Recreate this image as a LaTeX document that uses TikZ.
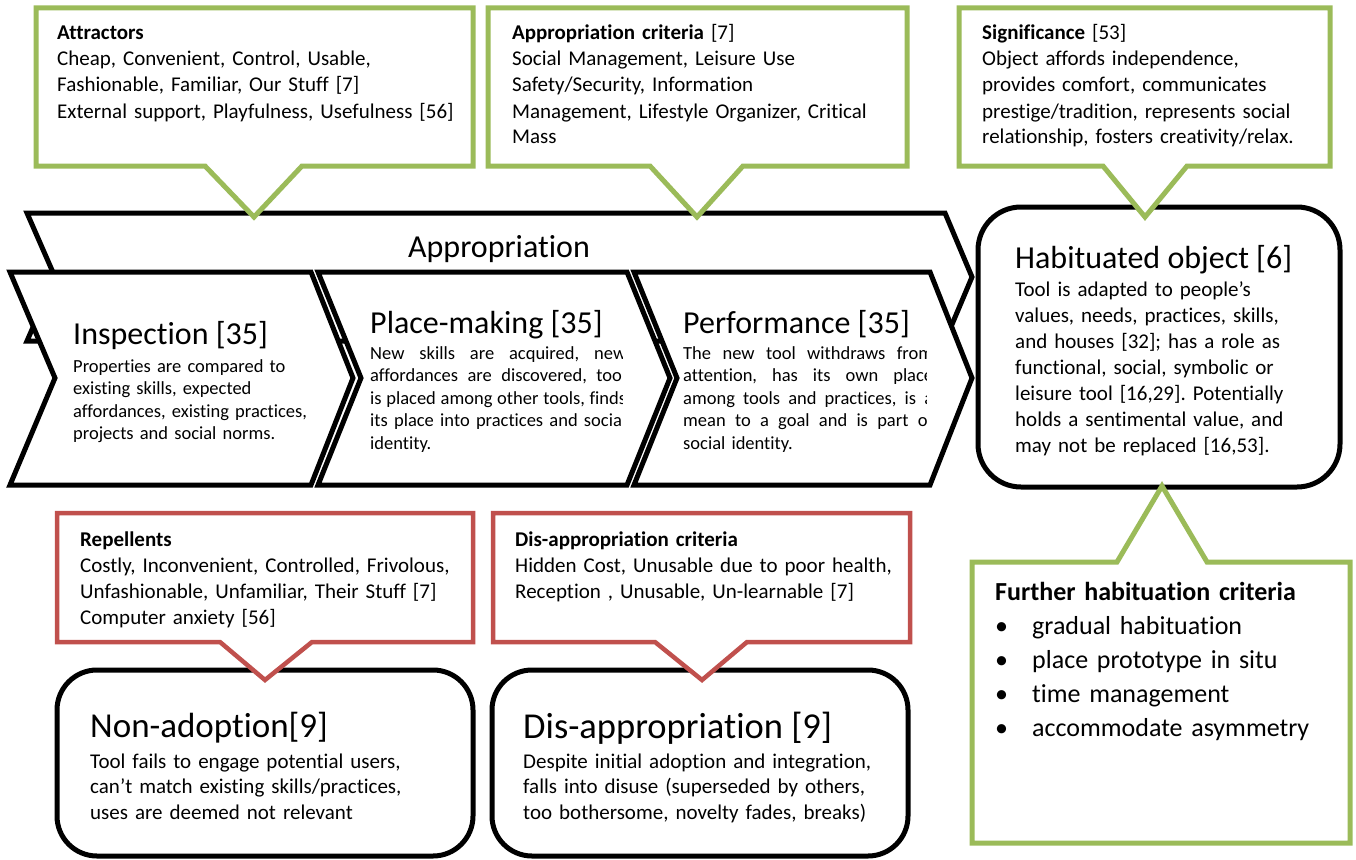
\documentclass[tikz,border=0pt]{standalone}
\usepackage{fontspec}
\setmainfont{Carlito}[Ligatures={NoCommon}]
\frenchspacing
\definecolor{cgreen}{HTML}{9BBB59}
\definecolor{cred}{HTML}{C0504D}
\newcommand\justline[2]{{\spaceskip=0pt\relax\xspaceskip=0pt\relax\makebox[#1][s]{#2}}}
\tikzset{
  chev/.style={draw=black, line width=5pt, fill=white, line join=miter},
  roundbox/.style={draw=black, line width=5pt, fill=white, rounded corners=40pt},
  gcall/.style={draw=cgreen, line width=5pt, fill=white, line join=miter},
  rcall/.style={draw=cred, line width=4.5pt, fill=white, line join=miter},
  txt/.style={anchor=base west, inner sep=0pt, align=left},
  calltxt/.style={txt, font=\fontsize{21}{26}\selectfont},
  bodytxt/.style={txt, font=\fontsize{18.5}{22.5}\selectfont},
  bigtxt/.style={txt, font=\fontsize{32}{38}\selectfont},
}
\begin{document}
\begin{tikzpicture}[x=1pt,y=-1pt]
\useasboundingbox (0,0) rectangle (1356,859);

% Appropriation band
\draw[chev] (27,213) -- (945,213) -- (972,277) -- (945,341) -- (27,341) -- (55,277) -- cycle;
\node[anchor=base, inner sep=0pt, font=\fontsize{32}{38}\selectfont] (approp) at (499,257) {Appropriation};

% three stage chevrons
\draw[chev] (10,272) -- (311,272) -- (353,378) -- (311,485) -- (10,485) -- (55,378) -- cycle;
\draw[chev] (318,272) -- (627,272) -- (670,378) -- (627,485) -- (318,485) -- (361,378) -- cycle;
\draw[chev] (634,272) -- (930,272) -- (972,378) -- (930,485) -- (634,485) -- (677,378) -- cycle;

\node[bigtxt] (insp) at (73,344) {Inspection [35]};
\node[bodytxt, text width=240pt] (inspb) at (73,372) {Properties are compared to\\existing skills, expected\\affordances, existing practices,\\projects and social norms.};

\node[bigtxt] (place) at (370,333) {Place-making [35]};
\begin{scope}
  \clip (360,340) rectangle (622,470);
  \node[bodytxt, text width=256pt] (placeb) at (370,359) {\justline{256pt}{New skills are acquired, new}\\\justline{256pt}{affordances are discovered, tool}\\\justline{256pt}{is placed among other tools, finds}\\\justline{256pt}{its place into practices and social}\\identity.};
\end{scope}

\node[bigtxt] (perf) at (683,333) {Performance [35]};
\begin{scope}
  \clip (675,340) rectangle (926,470);
  \node[bodytxt, text width=250pt] (perfb) at (683,359) {\justline{250pt}{The new tool withdraws from}\\\justline{250pt}{attention, has its own place}\\\justline{250pt}{among tools and practices, is a}\\\justline{250pt}{mean to a goal and is part of}\\social identity.};
\end{scope}

% Habituated object
\draw[roundbox, rounded corners=43pt] (978,207) rectangle (1340,487);
\node[bigtxt] (hab) at (1015,268) {Habituated object [6]};
\node[calltxt, text width=310pt] (habb) at (1015,296) {Tool is adapted to people’s\\values, needs, practices, skills,\\and houses [32]; has a role as\\functional, social, symbolic or\\leisure tool [16,29]. Potentially\\holds a sentimental value, and\\may not be replaced [16,53].};

% bottom outcome boxes
\draw[roundbox] (57,670) rectangle (473,856);
\node[txt, font=\fontsize{35}{40}\selectfont] (nonad) at (90,737) {Non-adoption[9]};
\node[txt, font=\fontsize{21}{25.7}\selectfont, text width=370pt] (nonadb) at (90,768) {Tool fails to engage potential users,\\can’t match existing skills/practices,\\uses are deemed not relevant};

\draw[roundbox] (492,670) rectangle (908,856);
\node[txt, font=\fontsize{36.5}{40}\selectfont] (disap) at (523,738) {Dis-appropriation [9]};
\node[txt, font=\fontsize{21}{25.7}\selectfont, text width=370pt] (disapb) at (523,768) {Despite initial adoption and integration,\\falls into disuse (superseded by others,\\too bothersome, novelty fades, breaks)};

% green callouts
\draw[gcall] (36,8) -- (473,8) -- (473,166) -- (302,166) -- (254,217) -- (205,166) -- (36,166) -- cycle;
\node[calltxt, text width=420pt] (attr) at (57,40) {\textbf{Attractors}\\Cheap, Convenient, Control, Usable,\\Fashionable, Familiar, Our Stuff [7]\\External support, Playfulness, Usefulness [56]};

\draw[gcall] (488,8) -- (907,8) -- (907,166) -- (743,166) -- (697,217) -- (650,166) -- (488,166) -- cycle;
\node[calltxt, text width=390pt] (crit) at (512,40) {\textbf{Appropriation criteria} [7]\\Social Management, Leisure Use\\Safety/Security, Information\\Management, Lifestyle Organizer, Critical\\Mass};

\draw[gcall] (959,8) -- (1330,8) -- (1330,166) -- (1187,166) -- (1145,217) -- (1103,166) -- (959,166) -- cycle;
\node[calltxt, text width=345pt] (sig) at (982,40) {\textbf{Significance} [53]\\Object affords independence,\\provides comfort, communicates\\prestige/tradition, represents social\\relationship, fosters creativity/relax.};

\draw[gcall] (972,562) -- (1117,562) -- (1162,486) -- (1207,562) -- (1350,562) -- (1350,843) -- (972,843) -- cycle;
\node[txt, font=\fontsize{26}{34}\selectfont, text width=350pt] (further) at (995,600) {\textbf{Further habituation criteria}\\\makebox[37pt][l]{\textbullet}gradual habituation\\\makebox[37pt][l]{\textbullet}place prototype in situ\\\makebox[37pt][l]{\textbullet}time management\\\makebox[37pt][l]{\textbullet}accommodate asymmetry};

% red callouts
\draw[rcall] (57,513) -- (473,513) -- (473,642) -- (312,642) -- (265,680) -- (220,642) -- (57,642) -- cycle;
\node[calltxt, text width=390pt] (rep) at (80,546) {\textbf{Repellents}\\Costly, Inconvenient, Controlled, Frivolous,\\Unfashionable, Unfamiliar, Their Stuff [7]\\Computer anxiety [56]};

\draw[rcall] (493,513) -- (910,513) -- (910,642) -- (747,642) -- (702,680) -- (655,642) -- (493,642) -- cycle;
\node[calltxt, text width=390pt] (discrit) at (515,546) {\textbf{Dis-appropriation criteria}\\Hidden Cost, Unusable due to poor health,\\Reception , Unusable, Un-learnable [7]};

\end{tikzpicture}
\end{document}
